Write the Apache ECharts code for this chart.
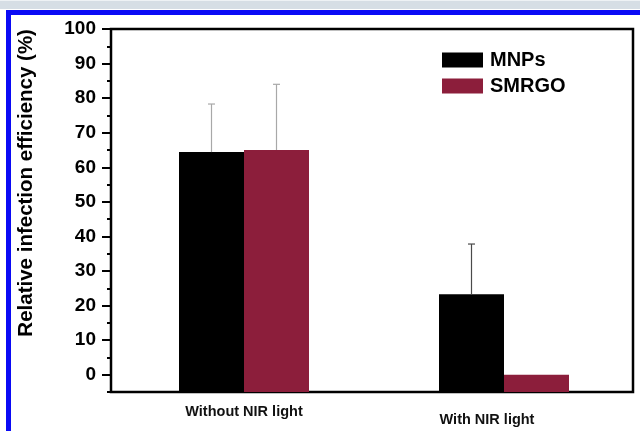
<!DOCTYPE html>
<html>
<head>
<meta charset="utf-8">
<script src="https://cdn.jsdelivr.net/npm/echarts@6/dist/echarts.min.js"></script>
<style>
  html, body { margin: 0; padding: 0; background: #ffffff; }
  #chart { width: 640px; height: 431px; }
</style>
</head>
<body>
<div id="chart"></div>
<script>
// Categories and measured values (%)
var categories = ['Without NIR light', 'With NIR light'];
var seriesNames = ['MNPs', 'SMRGO'];
var mnps = [64.4, 23.3];
var smrgo = [65.0, 0.0];
var mnpsErr = [13.9, 14.5];
var smrgoErr = [19.0, 0];
var yTicks = [0, 10, 20, 30, 40, 50, 60, 70, 80, 90, 100];

var FONT = '"Liberation Sans", Arial, Helvetica, sans-serif';
var BAR_W = 65;
var errColors = ['#a8a8a8', '#4a4a4a'];

// error bar points: [category index, value, upper error, series index]
var errData = [];
mnps.forEach(function (v, i) { if (mnpsErr[i] > 0) errData.push([i, v, mnpsErr[i], 0]); });
smrgo.forEach(function (v, i) { if (smrgoErr[i] > 0) errData.push([i, v, smrgoErr[i], 1]); });

var chart = echarts.init(document.getElementById('chart'), null, { renderer: 'canvas' });

chart.setOption({
  backgroundColor: '#ffffff',
  animation: false,
  graphic: [
    { type: 'rect', shape: { x: 0, y: 0, width: 640, height: 9 }, style: { fill: '#d6dee5' }, silent: true },
    { type: 'rect', shape: { x: 0, y: 0, width: 640, height: 1 }, style: { fill: '#eef2f5' }, silent: true },
    { type: 'rect', shape: { x: 6, y: 10, width: 634, height: 5 }, style: { fill: '#0a0af5' }, silent: true },
    { type: 'rect', shape: { x: 6, y: 10, width: 5, height: 421 }, style: { fill: '#0a0af5' }, silent: true }
  ],
  legend: {
    orient: 'vertical',
    left: 437,
    top: 45,
    itemWidth: 41,
    itemHeight: 15,
    itemGap: 6,
    icon: 'rect',
    data: seriesNames,
    textStyle: { fontFamily: FONT, fontWeight: 'bold', fontSize: 20, color: '#000', padding: [0, 0, 0, 2] }
  },
  grid: [
    // frame + minor ticks
    { left: 111, right: 7, top: 29, bottom: 39, show: true, borderColor: '#000', borderWidth: 2.5, backgroundColor: 'transparent' },
    // major ticks + labels (0..100)
    { left: 111, right: 7, top: 29, bottom: 56.3 },
    // bars
    { left: 114, right: 6, top: 29, bottom: 39 }
  ],
  xAxis: [
    { gridIndex: 0, type: 'value', show: false },
    { gridIndex: 1, type: 'value', show: false },
    {
      gridIndex: 2, type: 'category', data: categories,
      axisLine: { show: false }, axisTick: { show: false },
      axisLabel: {
        margin: 12,
        fontFamily: FONT, fontWeight: 'bold', fontSize: 14.5, color: '#111',
        formatter: function (v, i) { return i === 1 ? '{b|' + v + '}' : '{a|' + v + '}'; },
        rich: {
          a: { fontFamily: FONT, fontWeight: 'bold', fontSize: 14.5, color: '#111' },
          b: { fontFamily: FONT, fontWeight: 'bold', fontSize: 14.5, color: '#111', padding: [8, 34, 0, 0] }
        }
      }
    }
  ],
  yAxis: [
    {
      gridIndex: 0, type: 'value', min: -5, max: 100, interval: 5,
      axisLine: { show: false },
      axisTick: { show: true, length: 4, lineStyle: { color: '#000', width: 2 } },
      axisLabel: { show: false },
      splitLine: { show: false }
    },
    {
      gridIndex: 1, type: 'value', min: yTicks[0], max: yTicks[yTicks.length - 1], interval: 10,
      axisLine: { show: false },
      axisTick: { show: true, length: 9, lineStyle: { color: '#000', width: 2 } },
      axisLabel: { margin: 15, fontFamily: FONT, fontWeight: 'bold', fontSize: 19, color: '#000' },
      splitLine: { show: false },
      name: 'Relative infection efficiency (%)',
      nameLocation: 'middle',
      nameGap: 74,
      nameTextStyle: { fontFamily: FONT, fontWeight: 'bold', fontSize: 20.5, color: '#000', padding: [0, 0, 0, 38] }
    },
    {
      gridIndex: 2, type: 'value', min: -5, max: 100, startValue: -5, show: false,
      splitLine: { show: false }
    }
  ],
  series: [
    {
      name: seriesNames[0], type: 'bar', xAxisIndex: 2, yAxisIndex: 2,
      data: mnps, barWidth: BAR_W, barGap: '0%',
      itemStyle: { color: '#000000' }
    },
    {
      name: seriesNames[1], type: 'bar', xAxisIndex: 2, yAxisIndex: 2,
      data: smrgo, barWidth: BAR_W, barGap: '0%',
      itemStyle: { color: '#8c1e3b' }
    },
    {
      type: 'custom', xAxisIndex: 2, yAxisIndex: 2, data: errData, z: 5,
      renderItem: function (params, api) {
        var cat = api.value(0), v = api.value(1), e = api.value(2), s = api.value(3);
        var base = api.coord([cat, v]);
        var top = api.coord([cat, v + e]);
        var x = base[0] + (s === 0 ? -BAR_W / 2 : BAR_W / 2);
        var col = errColors[cat];
        return {
          type: 'group',
          children: [
            { type: 'line', shape: { x1: x, y1: base[1], x2: x, y2: top[1] }, style: { stroke: col, lineWidth: 1.2 } },
            { type: 'line', shape: { x1: x - 3.5, y1: top[1], x2: x + 3.5, y2: top[1] }, style: { stroke: col, lineWidth: 1.2 } }
          ]
        };
      }
    }
  ]
});
</script>
</body>
</html>
